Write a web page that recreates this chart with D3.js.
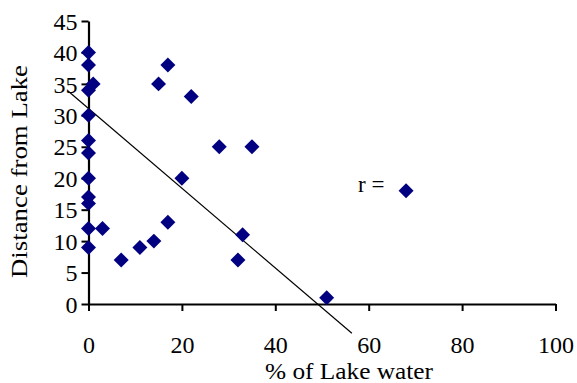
<!DOCTYPE html>
<html>
<head>
<meta charset="utf-8">
<script src="https://cdn.jsdelivr.net/npm/d3@7/dist/d3.min.js"></script>
<style>
  html, body { margin: 0; padding: 0; background: #fff; }
  svg { display: block; }
  svg text { font-family: "Liberation Serif", "Times New Roman", serif !important; fill: #000; }
</style>
</head>
<body>
<svg id="chart" width="577" height="383"></svg>
<script>
// % of lake water in each sample
const lakeWater = [0, 0, 1, 0, 0, 0, 0, 0, 0, 0, 0, 0,
                   3, 7, 11, 14, 17, 20, 17, 15, 22, 28, 35, 33, 32, 51, 68];
// distance of each sample from the lake
const distance  = [40, 38, 35, 34, 30, 26, 24, 20, 17, 16, 12, 9,
                   12, 7, 9, 10, 13, 20, 38, 35, 33, 25, 25, 11, 7, 1, 18];
// hand-drawn trend line end points (x, y)
const trendX = [-4.45, 56.4];
const trendY = [33.9, -4.66];
// axis ticks
const xTicks = [0, 20, 40, 60, 80, 100];
const yTicks = [0, 5, 10, 15, 20, 25, 30, 35, 40, 45];

const serif = '"Liberation Serif", "Times New Roman", serif';
const svg = d3.select("#chart");
const x = d3.scaleLinear().domain([0, 100]).range([88.5, 555.5]);
const y = d3.scaleLinear().domain([0, 45]).range([304, 21]);

// trend line
svg.append("line")
  .attr("x1", x(trendX[0])).attr("y1", y(trendY[0]))
  .attr("x2", x(trendX[1])).attr("y2", y(trendY[1]))
  .attr("stroke", "#000").attr("stroke-width", 1.2);

// axes
const xAxis = svg.append("g").attr("transform", `translate(0,${y(0)})`)
  .call(d3.axisBottom(x).tickValues(xTicks).tickSize(7).tickSizeOuter(0));
const yAxis = svg.append("g").attr("transform", `translate(${x(0)},0)`)
  .call(d3.axisLeft(y).tickValues(yTicks).tickSize(7).tickSizeOuter(0).tickPadding(4));
[xAxis, yAxis].forEach(g => {
  g.attr("font-family", serif).attr("font-size", 24);
  g.select(".domain").attr("stroke", "#000").attr("stroke-width", 2.2);
  g.selectAll(".tick line").attr("stroke", "#000").attr("stroke-width", 2);
  g.selectAll(".tick text").attr("fill", "#000");
});
yAxis.selectAll(".tick text").attr("dy", "0.34em");
xAxis.selectAll(".tick text").attr("y", 49).attr("dy", null);

// data points
const pts = lakeWater.map((v, i) => [v, distance[i]]);
svg.append("g").selectAll("path").data(pts).join("path")
  .attr("d", d3.symbol(d3.symbolSquare, 112))
  .attr("transform", d => `translate(${x(d[0])},${y(d[1])}) rotate(45)`)
  .attr("fill", "#000080");

// axis titles
svg.append("text")
  .attr("x", 349).attr("y", 379)
  .attr("text-anchor", "middle")
  .attr("textLength", 168).attr("lengthAdjust", "spacingAndGlyphs")
  .attr("font-family", serif).attr("font-size", 23)
  .text("% of Lake water");

svg.append("text")
  .attr("transform", "translate(27,171.5) rotate(-90)")
  .attr("text-anchor", "middle")
  .attr("textLength", 213).attr("lengthAdjust", "spacingAndGlyphs")
  .attr("font-family", serif).attr("font-size", 23)
  .text("Distance from Lake");

// correlation label
svg.append("text")
  .attr("x", 358).attr("y", 192)
  .attr("font-family", serif).attr("font-size", 23)
  .text("r =");
</script>
</body>
</html>
